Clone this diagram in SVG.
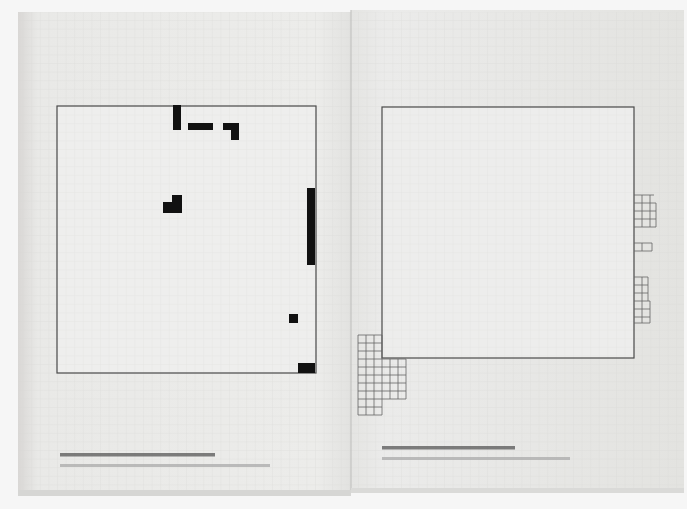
<svg xmlns="http://www.w3.org/2000/svg" width="687" height="509" viewBox="0 0 687 509">
<defs>
<pattern id="grid" x="57" y="106" width="8.6" height="8.6" patternUnits="userSpaceOnUse">
<path d="M0 0H8.6M0 0V8.6" fill="none" stroke="#d5d5d2" stroke-width="0.7"/>
</pattern>
<linearGradient id="pageL" x1="0" y1="0" x2="1" y2="0">
<stop offset="0" stop-color="#d9d7d5"/>
<stop offset="0.06" stop-color="#e9e9e7"/>
<stop offset="0.9" stop-color="#ececea"/>
<stop offset="1" stop-color="#e2e2e0"/>
</linearGradient>
<linearGradient id="pageR" x1="0" y1="0" x2="1" y2="0">
<stop offset="0" stop-color="#e4e4e2"/>
<stop offset="0.1" stop-color="#ebebea"/>
<stop offset="1" stop-color="#e3e3e0"/>
</linearGradient>
<style>
.frame{fill:none;stroke:#4a4a4a;stroke-width:1.2}
.blk{fill:#111}
.cell{fill:none;stroke:#666;stroke-width:0.8}
.txtb{fill:#555}
.txtl{fill:#aaa}
</style>
</defs>
<rect width="687" height="509" fill="#f6f6f6"/>
<rect x="18" y="12" width="333" height="482" fill="url(#pageL)"/>
<rect x="351" y="10" width="333" height="482" fill="url(#pageR)"/>
<rect x="18" y="12" width="666" height="480" fill="url(#grid)" opacity="0.7"/>
<line x1="351" y1="10" x2="351" y2="492" stroke="#bdbdbb" stroke-width="1"/>
<rect x="18" y="490" width="333" height="6" fill="#d6d6d4"/>
<rect x="351" y="488" width="333" height="5" fill="#dadad8"/>

<g id="left-board">
<rect x="57" y="106" width="259" height="267" fill="#eeeeed"/>
<rect x="57" y="106" width="259" height="267" fill="url(#grid)" opacity="0.5"/>
<rect class="frame" x="57" y="106" width="259" height="267"/>
</g>
<g id="left-blocks">
<rect class="blk" x="173" y="105" width="8" height="25"/>
<rect class="blk" x="188" y="123" width="25" height="7"/>
<rect class="blk" x="223" y="123" width="16" height="7"/>
<rect class="blk" x="231" y="123" width="8" height="17"/>
<rect class="blk" x="172" y="195" width="10" height="8"/>
<rect class="blk" x="163" y="202" width="19" height="11"/>
<rect class="blk" x="307" y="188" width="8" height="77"/>
<rect class="blk" x="289" y="314" width="9" height="9"/>
<rect class="blk" x="298" y="363" width="17" height="10"/>
</g>

<g id="right-board">
<rect x="382" y="107" width="252" height="251" fill="#ededec"/>
<rect x="382" y="107" width="252" height="251" fill="url(#grid)" opacity="0.5"/>
<rect class="frame" x="382" y="107" width="252" height="251"/>
</g>
<g id="right-cells">
<path class="cell" d="M358 335H382M358 343H382M358 351H382M358 359H390M358 367H390M358 375H390M358 383H390M358 391H390M358 399H390M358 407H382M358 415H382M358 335V415M366 335V415M374 335V415M382 335V415M390 359V399"/>
<path class="cell" d="M390 359H406M390 367H406M390 375H406M390 383H406M390 391H406M390 399H406M398 359V399M406 359V399"/>
<path class="cell" d="M634 195H654M634 203H656M634 211H656M634 219H656M634 227H656M642 195V227M650 195V227M656 203V227"/>
<path class="cell" d="M634 243H652M634 251H652M642 243V251M652 243V251"/>
<path class="cell" d="M634 277H648M634 285H648M634 293H648M634 301H650M634 309H650M634 317H650M634 323H650M642 277V323M648 277V301M650 301V323"/>
</g>

<g id="captions">
<rect class="txtb" x="60" y="453" width="155" height="3.5" opacity="0.75"/>
<rect class="txtl" x="60" y="464" width="210" height="3" opacity="0.75"/>
<rect class="txtb" x="382" y="446" width="133" height="3.5" opacity="0.75"/>
<rect class="txtl" x="382" y="457" width="188" height="3" opacity="0.75"/>
</g>
</svg>
